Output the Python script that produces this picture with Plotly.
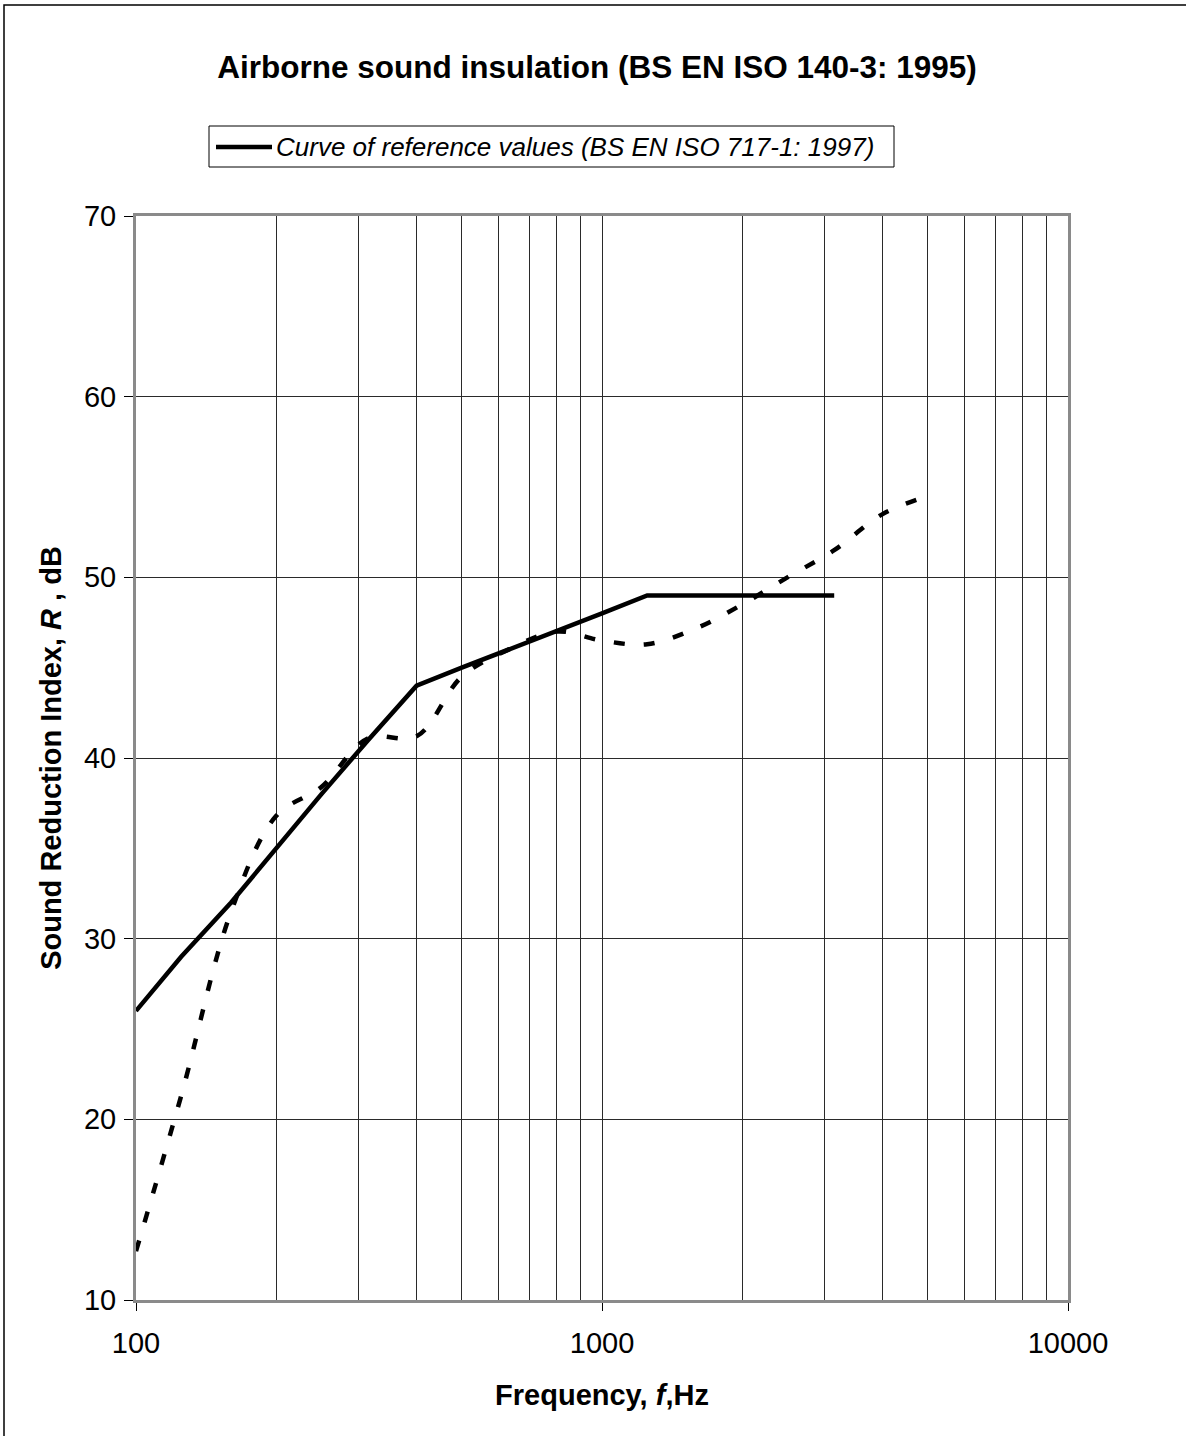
import plotly.graph_objects as go

# ---- data ----
freq_ref = [100, 125, 160, 200, 250, 315, 400, 500, 630, 800, 1000, 1250, 1600, 2000, 2500, 3150]
r_ref = [26, 29, 32, 35, 38, 41, 44, 45, 46, 47, 48, 49, 49, 49, 49, 49]

freq_meas = [100, 125, 160, 200, 250, 315, 400, 500, 630, 800, 1000, 1250, 1600, 2000, 2500, 3150, 4000, 5000]
r_meas = [12.7, 21.3, 31.5, 36.8, 38.4, 41.1, 41.2, 44.5, 46.0, 47.0, 46.5, 46.3, 47.2, 48.5, 50.0, 51.5, 53.5, 54.5]

x_tickvals = [100, 1000, 10000]
x_ticktext = ["100", "1000", "10000"]
x_minor = [200, 300, 400, 500, 600, 700, 800, 900, 2000, 3000, 4000, 5000, 6000, 7000, 8000, 9000]
y_tickvals = [10, 20, 30, 40, 50, 60, 70]

title_text = "<b>Airborne sound insulation (BS EN ISO 140-3: 1995)</b>"
legend_text = "<i>Curve of reference values (BS EN ISO 717-1: 1997)</i>"
x_title = "<b>Frequency, <i>f</i>,Hz</b>"
y_title = "<b>Sound Reduction Index, <i>R</i> , dB</b>"

# ---- layout geometry ----
W, H = 1186, 1436
L, R, T, B = 136, 118, 216, 136
PW, PH = W - L - R, H - T - B
FONT = "Liberation Sans, Arial, sans-serif"


def px(x):
    return (x - L) / PW


def py(y):
    return (H - B - y) / PH


fig = go.Figure()
fig.add_trace(go.Scatter(
    x=freq_meas, y=r_meas, mode="lines", name="Measured",
    line=dict(color="black", width=4.5, dash="11px,19px", shape="spline", smoothing=1),
    showlegend=False,
))
fig.add_trace(go.Scatter(
    x=freq_ref, y=r_ref, mode="lines", name="Curve of reference values (BS EN ISO 717-1: 1997)",
    line=dict(color="black", width=4.5),
    showlegend=False,
))

grid_col = "#2a2a2a"
axis_col = "#8a8a8a"

fig.update_xaxes(
    type="log", range=[2, 4],
    tickvals=x_tickvals, ticktext=x_ticktext,
    ticks="outside", ticklen=8, tickwidth=1, tickcolor="black",
    showgrid=True, gridcolor=grid_col, gridwidth=1,
    minor=dict(tickvals=x_minor, showgrid=True, gridcolor=grid_col, gridwidth=1, ticks=""),
    showline=True, linecolor=axis_col, linewidth=3, mirror=True,
    zeroline=False,
    tickfont=dict(family=FONT, size=29, color="black"),
    ticklabelstandoff=7,
    title=dict(text=x_title, font=dict(family=FONT, size=29, color="black"), standoff=27),
)
fig.update_yaxes(
    range=[10, 70], tickvals=y_tickvals,
    ticks="outside", ticklen=9, tickwidth=1, tickcolor="black",
    showgrid=True, gridcolor=grid_col, gridwidth=1,
    showline=True, linecolor=axis_col, linewidth=3, mirror=True,
    zeroline=False,
    tickfont=dict(family=FONT, size=29, color="black"),
    ticklabelstandoff=2,
    title=dict(text=y_title, font=dict(family=FONT, size=29, color="black"), standoff=14),
)

shapes = [
    # outer chart border (top and left visible)
    dict(type="rect", xref="paper", yref="paper",
         x0=px(4), x1=px(W + 6), y0=py(H + 6), y1=py(5),
         line=dict(color="black", width=1.5), fillcolor="rgba(0,0,0,0)", layer="above"),
    # legend box
    dict(type="rect", xref="paper", yref="paper",
         x0=px(209), x1=px(894), y0=py(167), y1=py(126),
         line=dict(color="black", width=1), fillcolor="white", layer="above"),
    # legend line sample
    dict(type="line", xref="paper", yref="paper",
         x0=px(216), x1=px(272), y0=py(147), y1=py(147),
         line=dict(color="black", width=4.5), layer="above"),
]

annotations = [
    dict(text=legend_text, xref="paper", yref="paper", x=px(274), y=py(147),
         xanchor="left", yanchor="middle", showarrow=False,
         font=dict(family=FONT, size=26, color="black")),
]

fig.update_layout(
    width=W, height=H, autosize=False,
    margin=dict(l=L, r=R, t=T, b=B, pad=0),
    paper_bgcolor="white", plot_bgcolor="white",
    title=dict(text=title_text, x=597 / W, xanchor="center", xref="container",
               y=1 - 67 / H, yanchor="middle", yref="container",
               font=dict(family=FONT, size=31.5, color="black")),
    shapes=shapes, annotations=annotations,
    showlegend=False,
)

fig.write_html("out.html")
